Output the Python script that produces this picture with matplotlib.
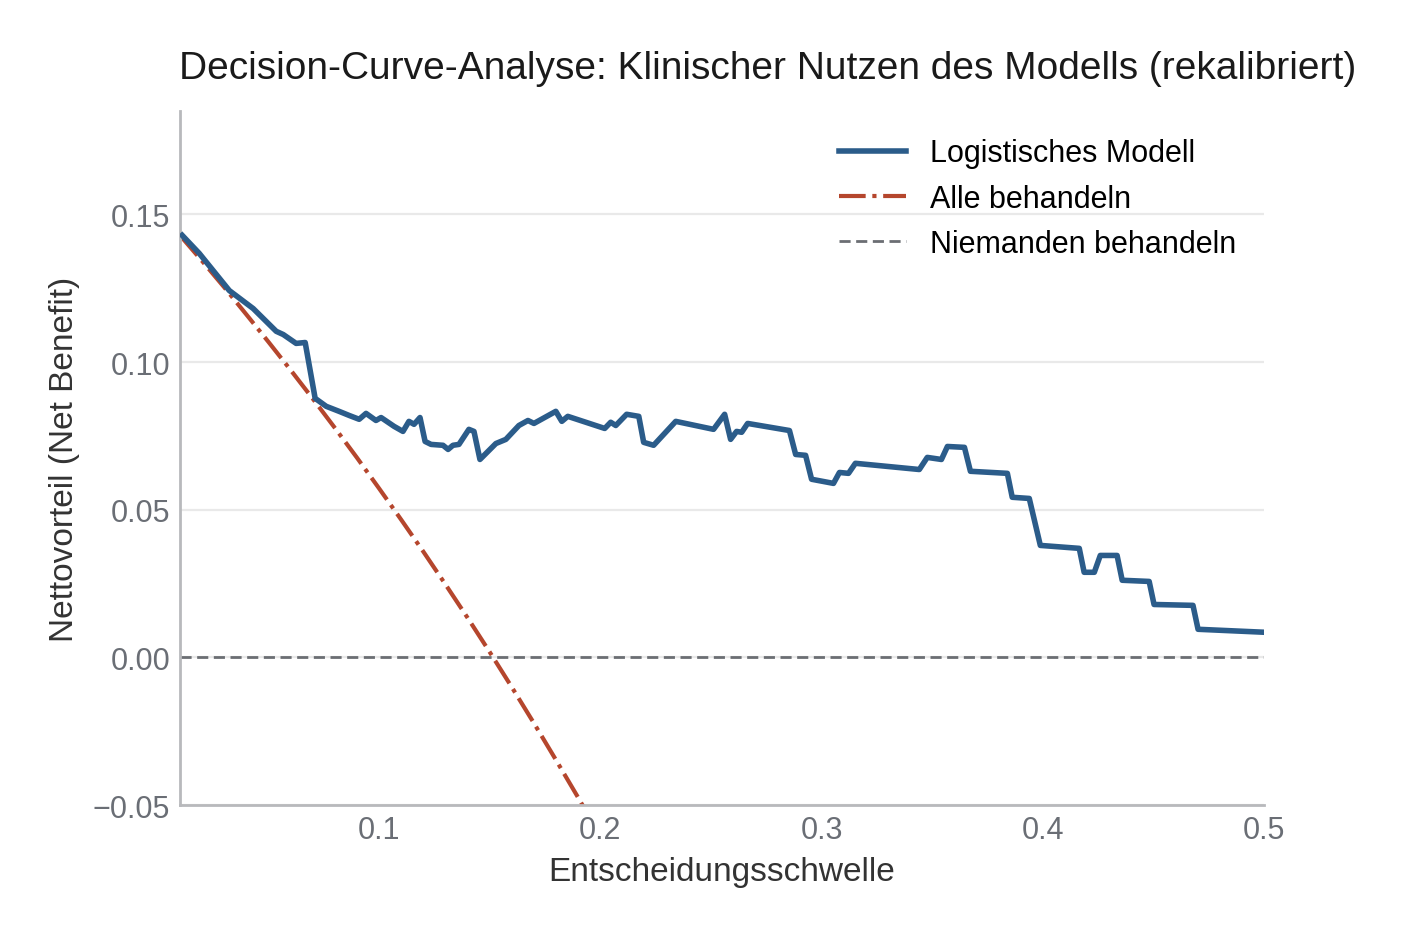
import matplotlib.pyplot as plt
import numpy as np

plt.rcParams['font.family'] = ['Liberation Sans', 'DejaVu Sans']

# Entscheidungsschwellen und Nettovorteil des Modells
thr_model = [0.011, 0.0187, 0.0323, 0.0431, 0.0535, 0.0567, 0.0625, 0.0666, 0.0711, 0.0761,
             0.0819, 0.0865, 0.0910, 0.0941, 0.0986, 0.1009, 0.1068, 0.1108, 0.1135, 0.1158,
             0.1185, 0.1208, 0.1235, 0.1289, 0.1312, 0.1334, 0.1361, 0.1406, 0.1429, 0.1456,
             0.1528, 0.1573, 0.1632, 0.1673, 0.1700, 0.1799, 0.1826, 0.1853, 0.2020, 0.2047,
             0.2070, 0.2119, 0.2174, 0.2196, 0.2241, 0.2341, 0.2512, 0.2562, 0.2589, 0.2616,
             0.2639, 0.2666, 0.2855, 0.2883, 0.2928, 0.2955, 0.3054, 0.3081, 0.3122, 0.3153,
             0.3442, 0.3478, 0.3542, 0.3569, 0.3646, 0.3673, 0.3840, 0.3862, 0.3939, 0.3989,
             0.4165, 0.4187, 0.4233, 0.4260, 0.4336, 0.4359, 0.4481, 0.4503, 0.4679, 0.4702,
             0.5000]
nb_model = [0.1429, 0.1368, 0.1242, 0.1181, 0.1104, 0.1093, 0.1063, 0.1066, 0.0877, 0.0850,
            0.0833, 0.0819, 0.0806, 0.0826, 0.0802, 0.0812, 0.0782, 0.0765, 0.0799, 0.0789,
            0.0812, 0.0731, 0.0721, 0.0718, 0.0704, 0.0718, 0.0721, 0.0772, 0.0765, 0.0670,
            0.0724, 0.0738, 0.0785, 0.0802, 0.0792, 0.0833, 0.0799, 0.0816, 0.0775, 0.0796,
            0.0785, 0.0823, 0.0816, 0.0728, 0.0718, 0.0799, 0.0772, 0.0823, 0.0738, 0.0765,
            0.0762, 0.0792, 0.0768, 0.0687, 0.0684, 0.0603, 0.0589, 0.0626, 0.0623, 0.0657,
            0.0636, 0.0677, 0.0670, 0.0714, 0.0711, 0.0630, 0.0623, 0.0542, 0.0538, 0.0379,
            0.0369, 0.0288, 0.0288, 0.0345, 0.0345, 0.0261, 0.0257, 0.0179, 0.0176, 0.0095,
            0.0085]

# "Alle behandeln"
thr_all = [0.01, 0.02, 0.03, 0.04, 0.05, 0.06, 0.07, 0.08, 0.09, 0.10,
           0.11, 0.12, 0.13, 0.14, 0.15, 0.16, 0.17, 0.18, 0.19, 0.20]
nb_all = [0.1429, 0.1342, 0.1253, 0.1161, 0.1068, 0.0973, 0.0876, 0.0777, 0.0676, 0.0572,
          0.0466, 0.0358, 0.0247, 0.0134, 0.0018, -0.0101, -0.0223, -0.0348, -0.0475, -0.0606]

# "Niemanden behandeln"
thr_none = [0.01, 0.5]
nb_none = [0.0, 0.0]

xticks = [0.1, 0.2, 0.3, 0.4, 0.5]
xticklabels = ['0.1', '0.2', '0.3', '0.4', '0.5']
yticks = [-0.05, 0.0, 0.05, 0.10, 0.15]
yticklabels = ['\u22120.05', '0.00', '0.05', '0.10', '0.15']

fig = plt.figure(figsize=(7.03, 4.685), dpi=200)
ax = fig.add_axes([0.128, 0.1398, 0.771, 0.7407])

for y in yticks:
    ax.axhline(y, color='#e9e9e9', lw=0.8, zorder=0)

ax.plot(thr_model, nb_model, color='#2b5c8a', lw=2.0, label='Logistisches Modell', zorder=3)
ax.plot(thr_all, nb_all, color='#b5462d', lw=1.5, ls='-.', label='Alle behandeln', zorder=2)
ax.plot(thr_none, nb_none, color='#6b6e73', lw=1.0, ls=(0, (4, 2)), label='Niemanden behandeln', zorder=2)

ax.set_xlim(0.01, 0.5)
ax.set_ylim(-0.05, 0.185)
ax.set_xticks(xticks)
ax.set_xticklabels(xticklabels)
ax.set_yticks(yticks)
ax.set_yticklabels(yticklabels)
ax.tick_params(length=0, labelsize=11, labelcolor='#6a6e75', pad=3.5)

for side in ['top', 'right']:
    ax.spines[side].set_visible(False)
for side in ['left', 'bottom']:
    ax.spines[side].set_color('#b8b9bc')
    ax.spines[side].set_linewidth(1.0)

ax.set_xlabel('Entscheidungsschwelle', fontsize=12, color='#333333', labelpad=4)
ax.set_ylabel('Nettovorteil (Net Benefit)', fontsize=12, color='#333333', labelpad=4.5)
ax.set_title('Decision-Curve-Analyse: Klinischer Nutzen des Modells (rekalibriert)',
             fontsize=14, color='#1a1a1a', pad=12, x=0.542)

ax.legend(loc='upper right', frameon=False, fontsize=11, handlelength=2.2,
          bbox_to_anchor=(1.0, 1.0), labelspacing=0.5)

fig.savefig('out.png', dpi=200)
